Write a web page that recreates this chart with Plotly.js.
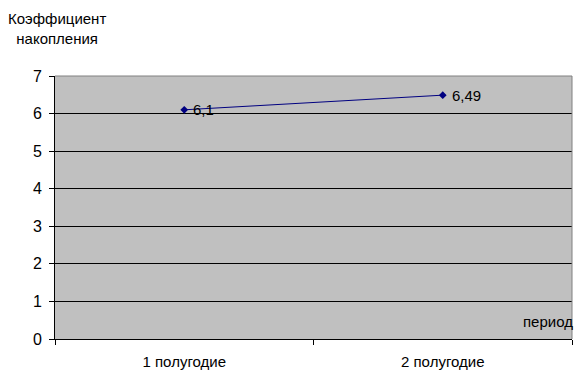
<!DOCTYPE html>
<html><head><meta charset="utf-8">
<script src="https://cdn.plot.ly/plotly-3.0.1.min.js"></script>
<style>html,body{margin:0;padding:0;background:#fff}</style>
</head><body><div id="chart" style="width:585px;height:381px"></div>
<script>
const categories = ["1 полугодие", "2 полугодие"];
const values = [6.1, 6.49];
const labels = ["6,1", "6,49"];
const yTitle = "Коэффициент<br>накопления";
const xTitle = "период";

const fam = "Liberation Sans, Arial, sans-serif";
const font = {family: fam, size: 15, color: "#000"};
const labelAnns = categories.map((c, i) => ({
  x: c, y: values[i], xref: "x", yref: "y", text: labels[i], showarrow: false,
  xanchor: "left", yanchor: "middle", xshift: 7, font: font
}));
Plotly.newPlot("chart", [{
  x: categories, y: values, type: "scatter", mode: "lines+markers",
  line: {color: "#000080", width: 1},
  marker: {symbol: "diamond", size: 6, color: "#000080"},
  cliponaxis: false, hoverinfo: "none"
}], {
  width: 585, height: 381,
  margin: {l: 55, r: 13, t: 76, b: 42},
  paper_bgcolor: "#fff", plot_bgcolor: "#c0c0c0",
  font: font, showlegend: false,
  xaxis: {type: "category", range: [-0.5, 1.5], tickson: "boundaries",
    ticks: "outside", ticklen: 5, tickcolor: "#000", showgrid: false,
    showline: true, linecolor: "#000", linewidth: 1, mirror: false,
    zeroline: false, fixedrange: true, tickfont: font, ticklabelstandoff: 9},
  yaxis: {range: [0, 7], dtick: 1, ticks: "outside", ticklen: 5, tickcolor: "#000",
    showgrid: true, gridcolor: "#000", gridwidth: 1, showline: true, linecolor: "#000",
    zeroline: false, tickfont: {family: fam, size: 16, color: "#000"}, fixedrange: true,
    ticklabelstandoff: 4},
  shapes: [
    {type: "line", xref: "paper", yref: "paper", x0: 0, x1: 1, y0: 1, y1: 1, line: {color: "#808080", width: 1}},
    {type: "line", xref: "paper", yref: "paper", x0: 1, x1: 1, y0: 0, y1: 1, line: {color: "#808080", width: 1}}
  ],
  annotations: labelAnns.concat([
    {text: yTitle, xref: "paper", yref: "paper", x: -0.094, y: 1.179, xanchor: "left", yanchor: "middle",
     showarrow: false, align: "center", font: font},
    {text: xTitle, xref: "paper", yref: "paper", x: 1.005, y: 0.065, xanchor: "right", yanchor: "middle",
     showarrow: false, font: font}
  ])
}, {staticPlot: true});
</script></body></html>
